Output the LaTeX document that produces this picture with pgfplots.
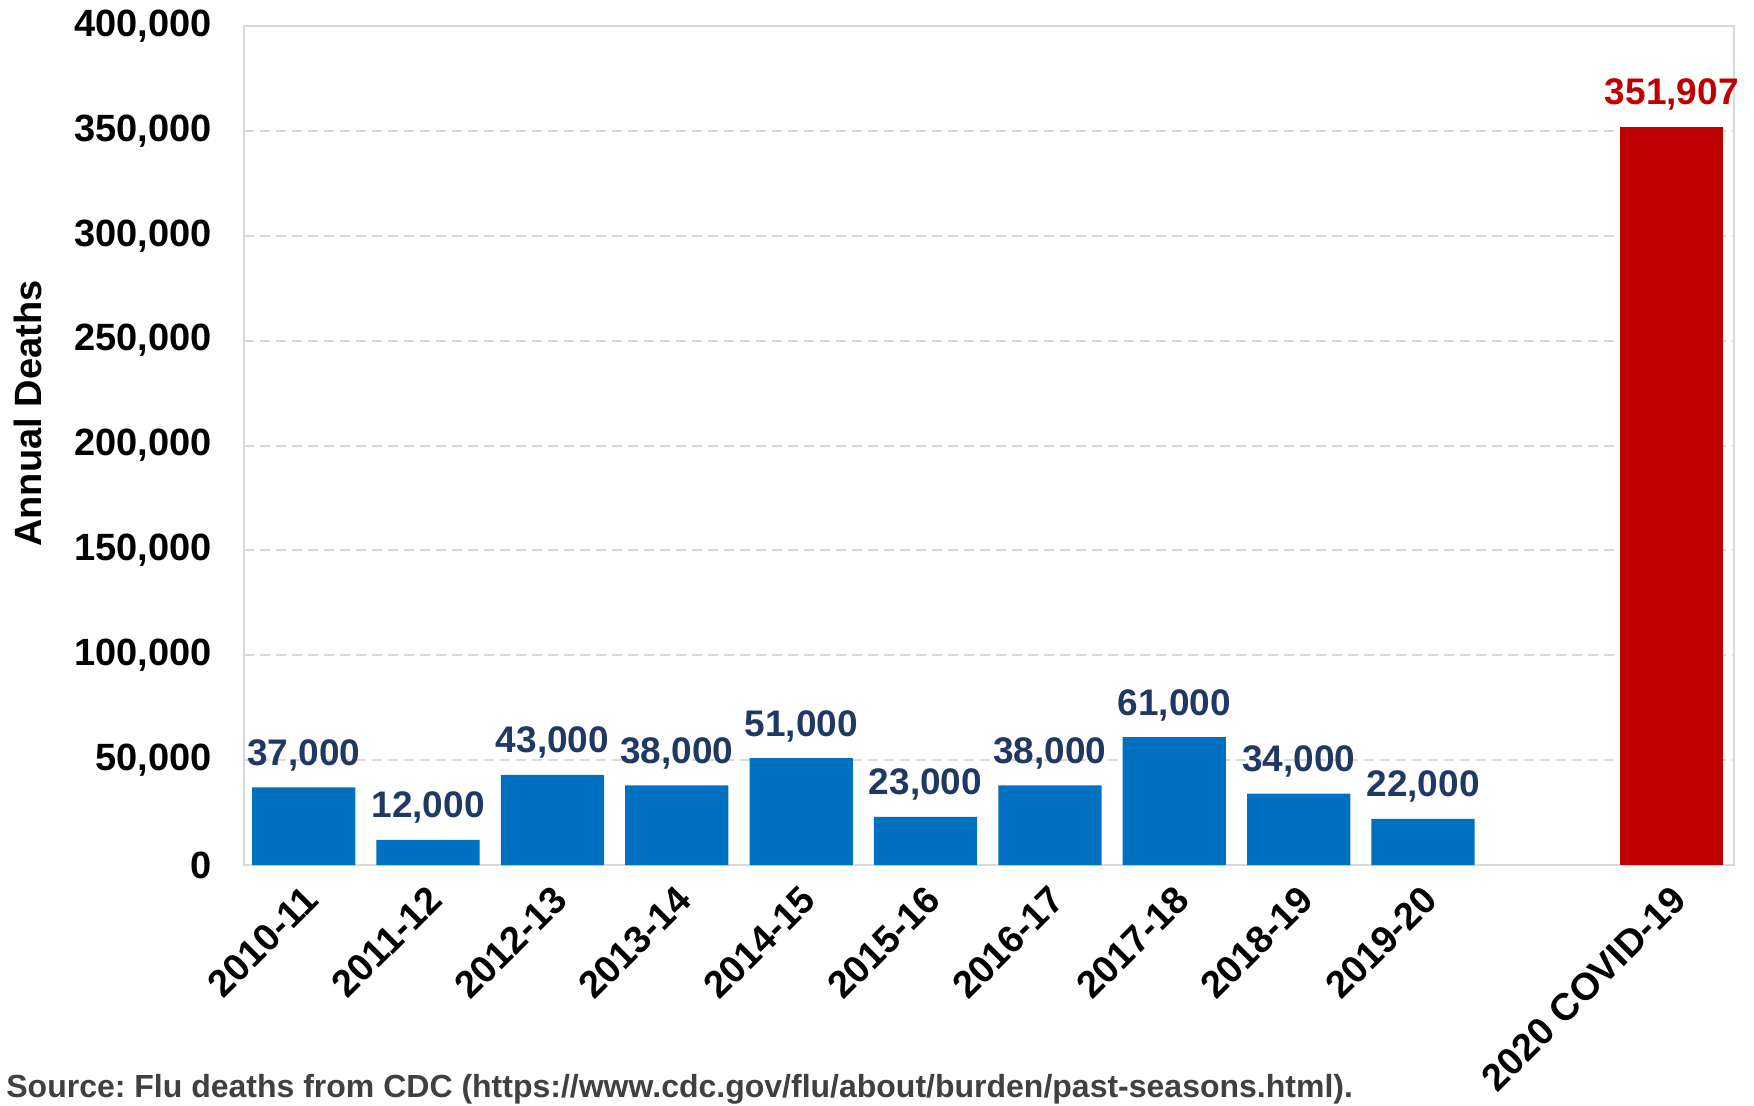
\documentclass[border=0pt]{standalone}
\usepackage{pgfplots}
\pgfplotsset{compat=1.18}
\usepackage{fontspec}
\setmainfont{Liberation Sans}
\frenchspacing
\definecolor{barblue}{HTML}{0070C0}
\definecolor{labblue}{HTML}{1F3864}
\definecolor{covred}{HTML}{C00000}
\definecolor{gridgray}{HTML}{D9D9D9}
\definecolor{srcgray}{HTML}{404040}
\begin{document}
\begin{tikzpicture}
\useasboundingbox (-122pt,-120pt) rectangle (755pt,432.5pt);
\begin{axis}[
  at={(0pt,0pt)}, anchor=south west,
  scale only axis, width=745pt, height=419.5pt,
  xmin=-0.48, xmax=11.5, ymin=0, ymax=400000,
  ybar, bar width=0.83, bar shift=0pt,
  xtick={0,1,2,3,4,5,6,7,8,9,11},
  xticklabels={2010-11,2011-12,2012-13,2013-14,2014-15,2015-16,2016-17,2017-18,2018-19,2019-20,2020 COVID-19},
  ytick={0,50000,100000,150000,200000,250000,300000,350000,400000},
  scaled y ticks=false,
  /pgf/number format/assume math mode=true,
  yticklabel style={/pgf/number format/fixed, /pgf/number format/1000 sep={,}, inner sep=0pt, xshift=-16pt},
  tick label style={font=\bfseries\fontsize{19}{22}\selectfont, black},
  xticklabel style={yshift=-9pt, xshift=-1pt, rotate=45, anchor=north east, inner sep=0pt},
  major tick length=0pt,
  axis line style={gridgray, line width=1pt},
  ymajorgrids, grid style={gridgray, line width=1pt, dash pattern=on 5pt off 3pt},
  ylabel={Annual Deaths},
  ylabel style={at={(axis description cs:-0.145,0.538)}, rotate=0, anchor=center, font=\bfseries\fontsize{19}{22}\selectfont},
  nodes near coords={\pgfmathprintnumber[fixed,precision=0,1000 sep={,}]{\pgfplotspointmeta}},
  nodes near coords style={anchor=base, inner sep=0pt, yshift=11pt, font=\bfseries\fontsize{18.5}{22}\selectfont},
]
\addplot[fill=barblue, draw=none, nodes near coords style={labblue}] coordinates {
(0,37000) (1,12000) (2,43000) (3,38000) (4,51000) (5,23000) (6,38000) (7,61000) (8,34000) (9,22000)};
\addplot[fill=covred, draw=none, nodes near coords style={covred}] coordinates {(11,351907)};
\end{axis}
\node[anchor=base west, inner sep=0pt, text=srcgray, font=\bfseries\fontsize{16}{19}\selectfont] at (-119pt,-116pt) {Source: Flu deaths from CDC (https://www.cdc.gov/flu/about/burden/past-seasons.html).};
\end{tikzpicture}
\end{document}
